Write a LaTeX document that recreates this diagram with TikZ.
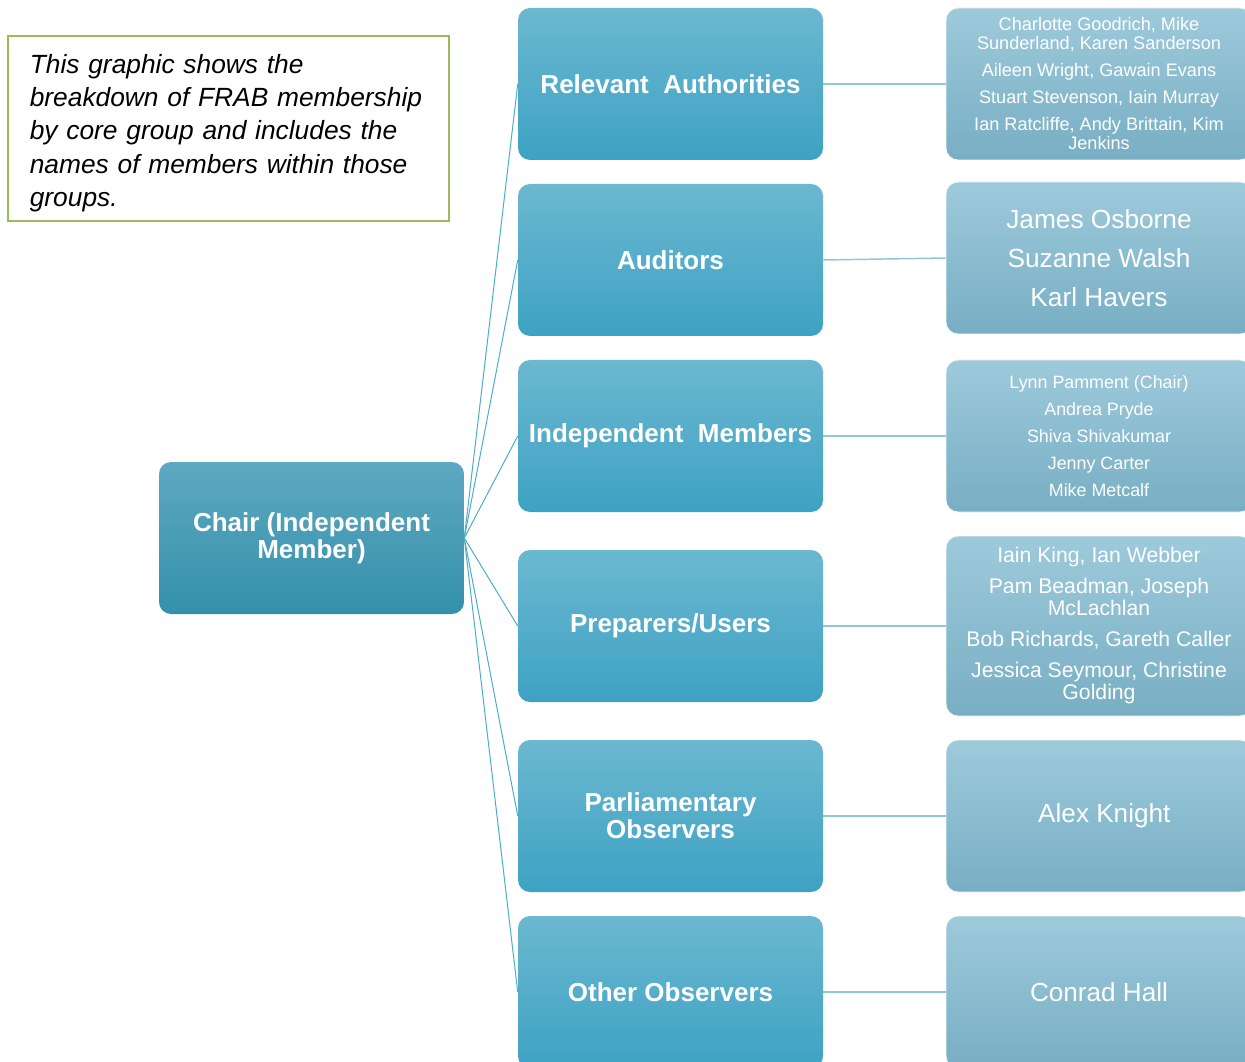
\documentclass[tikz,border=0pt]{standalone}
\usepackage{fontspec}
\setmainfont{Liberation Sans}
\definecolor{midtop}{HTML}{6BB8D0}
\definecolor{midbot}{HTML}{3EA2C3}
\definecolor{chairtop}{HTML}{5EA8C1}
\definecolor{chairbot}{HTML}{3490AA}
\definecolor{righttop}{HTML}{9DCADB}
\definecolor{rightbot}{HTML}{78AEC3}
\definecolor{fanline}{HTML}{4BAEC8}
\definecolor{hline}{HTML}{8EC7D9}
\definecolor{framegreen}{HTML}{9BBB59}
\tikzset{
  groupbox/.style={rounded corners=9pt, top color=midtop, bottom color=midbot,
    minimum width=228.75pt, minimum height=114pt, inner sep=2pt,
    text=white, font=\fontsize{19.5}{20}\selectfont\bfseries, align=center},
  chairbox/.style={groupbox, top color=chairtop, bottom color=chairbot},
  namebox/.style={rounded corners=9pt, top color=righttop, bottom color=rightbot,
    draw=white!85!righttop, line width=0.6pt,
    minimum width=229.5pt, minimum height=114pt, inner sep=2pt,
    text=white, align=center},
  fan/.style={draw=fanline, line width=0.75pt},
  link/.style={draw=hline, line width=1.1pt},
  descframe/.style={draw=framegreen, line width=1.6pt, minimum width=330.75pt, minimum height=138.75pt},
  desctext/.style={text width=298pt, align=left, inner sep=0pt,
    font=\fontsize{19.75}{25}\selectfont\itshape},
}
\begin{document}
\begin{tikzpicture}[x=0.75pt, y=-0.75pt]
\useasboundingbox (0,0) rectangle (1245,1062);
\clip (0,0) rectangle (1245,1062);

% description box
\node[descframe] (descbox) at (228.5,128.5) {};
\node[desctext] (desc) at (228.5,133)
  {This graphic shows the\\ breakdown of FRAB membership\\ by core group and includes the\\ names of members within those\\ groups.};

% chair
\node[chairbox] (chair) at (311.5,538) {Chair (Independent\\ Member)};

% groups
\node[groupbox] (g1) at (670.5,84)  {Relevant\ \ Authorities};
\node[groupbox] (g2) at (670.5,260) {Auditors};
\node[groupbox] (g3) at (670.5,436) {Independent\ \ Members};
\node[groupbox] (g4) at (670.5,626) {Preparers/Users};
\node[groupbox] (g5) at (670.5,816) {Parliamentary\\ Observers};
\node[groupbox] (g6) at (670.5,992) {Other Observers};

% names
\node[namebox, font=\fontsize{13.6}{14.25}\selectfont] (n1) at (1099,84)
  {Charlotte Goodrich, Mike\\ Sunderland, Karen Sanderson\\[6pt]
   Aileen Wright, Gawain Evans\\[6pt]
   Stuart Stevenson, Iain Murray\\[6pt]
   Ian Ratcliffe, Andy Brittain, Kim\\ Jenkins};
\node[namebox, font=\fontsize{19.7}{29}\selectfont] (n2) at (1099,258)
  {James Osborne\\ Suzanne Walsh\\ Karl Havers};
\node[namebox, font=\fontsize{13.4}{20.25}\selectfont] (n3) at (1099,436)
  {Lynn Pamment (Chair)\\ Andrea Pryde\\ Shiva Shivakumar\\ Jenny Carter\\ Mike Metcalf};
\node[namebox, minimum height=135pt, font=\fontsize{15.9}{16.5}\selectfont] (n4) at (1099,626)
  {Iain King, Ian Webber\\[6.75pt]
   Pam Beadman, Joseph\\ McLachlan\\[6.75pt]
   Bob Richards, Gareth Caller\\[6.75pt]
   Jessica Seymour, Christine\\ Golding};
\node[namebox, font=\fontsize{19.6}{24}\selectfont] (n5) at (1099,816) {\hspace{8pt}Alex Knight};
\node[namebox, font=\fontsize{19.6}{24}\selectfont] (n6) at (1099,992) {Conrad Hall};

% fan connectors
\foreach \g in {g1,g2,g3,g4,g5,g6}
  \draw[fan] (chair.east) -- (\g.west);

% horizontal connectors
\foreach \i in {1,...,6}
  \draw[link] (g\i.east) -- (n\i.west);
\end{tikzpicture}
\end{document}
